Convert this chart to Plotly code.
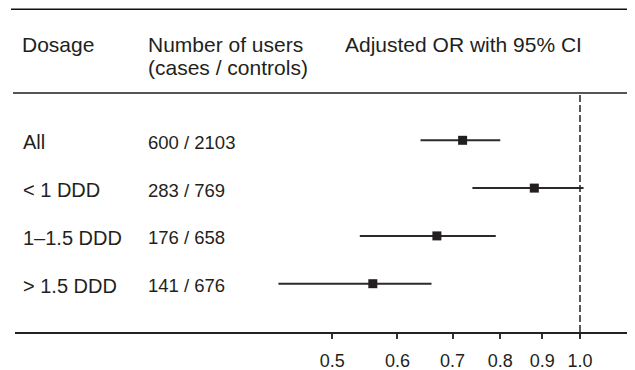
import plotly.graph_objects as go

# ---- data ----
dosage = ["All", "< 1 DDD", "1–1.5 DDD", "> 1.5 DDD"]
users = ["600 / 2103", "283 / 769", "176 / 658", "141 / 676"]
odds_ratio = [0.72, 0.88, 0.67, 0.56]
ci_low = [0.64, 0.74, 0.54, 0.43]
ci_high = [0.80, 1.01, 0.79, 0.66]
tick_vals = [0.5, 0.6, 0.7, 0.8, 0.9, 1.0]
tick_text = ["0.5", "0.6", "0.7", "0.8", "0.9", "1.0"]

rows = list(range(len(dosage)))
FONT = "Liberation Sans, Arial, sans-serif"
INK = "#231f20"

# page body has an 8px default margin; work in window pixels and offset
OFF = 8
W, H = 635 - OFF, 370 - OFF
ML, MR, MT, MB = 15 - OFF, 0, 0, 370 - 332
PW, PH = W - ML - MR, H - MT - MB

def px_x(p):
    return (p - OFF - ML) / PW

def px_y(p):
    return 1 - (p - OFF - MT) / PH

fig = go.Figure()
fig.add_trace(go.Scatter(
    x=odds_ratio, y=rows, mode="markers",
    marker=dict(symbol="square", size=9, color=INK),
    error_x=dict(type="data", symmetric=False,
                 array=[h - o for h, o in zip(ci_high, odds_ratio)],
                 arrayminus=[o - l for o, l in zip(odds_ratio, ci_low)],
                 width=0, thickness=2, color="#2a2a2a"),
    showlegend=False, hoverinfo="skip"))

ann = []
for i, (d, u) in enumerate(zip(dosage, users)):
    ann.append(dict(x=px_x(21), xref="paper", y=i, yref="y", text=d,
                    xanchor="left", yanchor="middle", showarrow=False, yshift=-2,
                    font=dict(family=FONT, size=20, color=INK)))
    ann.append(dict(x=px_x(146), xref="paper", y=i, yref="y", text=u,
                    xanchor="left", yanchor="middle", showarrow=False, yshift=-2,
                    font=dict(family=FONT, size=18.5, color=INK)))

headers = [("Dosage", 20, 45), ("Number of users", 146, 45),
           ("(cases / controls)", 146, 68), ("Adjusted OR with 95% CI", 343, 45)]
for t, hx, hy in headers:
    ann.append(dict(x=px_x(hx), xref="paper", y=px_y(hy), yref="paper", text=t,
                    xanchor="left", yanchor="middle", showarrow=False,
                    font=dict(family=FONT, size=21, color=INK)))

shapes = [
    dict(type="line", xref="paper", yref="paper", x0=px_x(11), x1=px_x(635),
         y0=px_y(9.3), y1=px_y(9.3), line=dict(color="#111", width=1.5)),
    dict(type="line", xref="paper", yref="paper", x0=px_x(13), x1=px_x(635),
         y0=px_y(93), y1=px_y(93), line=dict(color="#555", width=2)),
    dict(type="line", xref="x", yref="paper", x0=1.0, x1=1.0,
         y0=px_y(95), y1=px_y(337), line=dict(color="#222", width=1.5, dash="7px,3px")),
]

# log axis: 1.0 at window x=580, 822.8 px per decade
x_left = (15 - 580) / 822.8
x_right = (635 - 580) / 822.8
row_px = 47.8
y_top = (OFF + MT - 140.3) / row_px
y_bot = (OFF + MT + PH - 140.3) / row_px

fig.update_layout(
    width=W, height=H, margin=dict(l=ML, r=MR, t=MT, b=MB),
    paper_bgcolor="white", plot_bgcolor="white",
    annotations=ann, shapes=shapes,
    xaxis=dict(type="log", range=[x_left, x_right], tickvals=tick_vals, ticktext=tick_text,
               ticks="outside", ticklen=5, tickwidth=1.5, tickcolor="#333",
               showline=True, linecolor="#222", linewidth=2, showgrid=False, zeroline=False,
               tickfont=dict(family=FONT, size=18, color=INK), ticklabelstandoff=6),
    yaxis=dict(range=[y_bot, y_top], visible=False, showgrid=False, zeroline=False),
)

fig.write_html("out.html")
